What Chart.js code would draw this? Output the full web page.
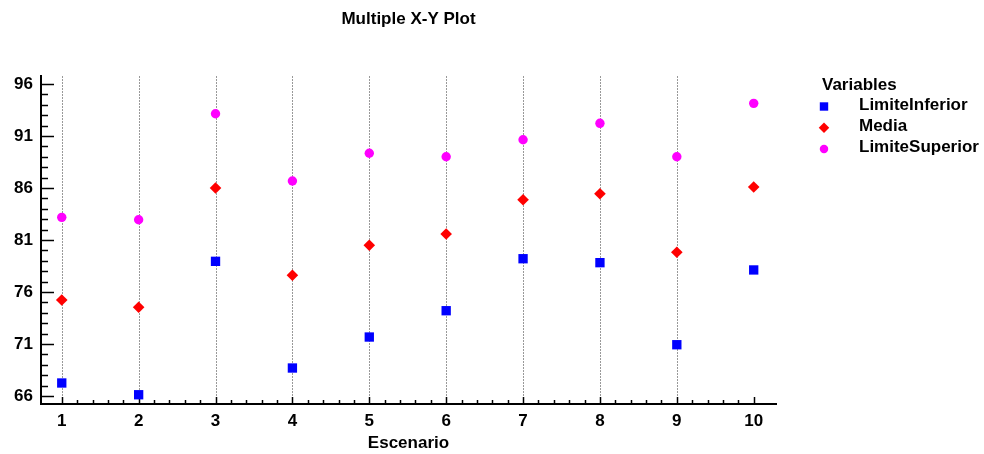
<!DOCTYPE html>
<html lang="es">
<head>
<meta charset="UTF-8">
<title>Multiple X-Y Plot</title>
<script src="https://cdn.jsdelivr.net/npm/chart.js"></script>
<style>
  html, body { margin: 0; padding: 0; background: #fff; }
</style>
</head>
<body>
<canvas id="xyChart" width="984" height="454"></canvas>
<script>
// Escenarios y valores de cada variable
const escenarios = [1, 2, 3, 4, 5, 6, 7, 8, 9, 10];
const limiteInferior = [67.25, 66.12, 78.95, 68.69, 71.67, 74.2, 79.2, 78.82, 70.93, 78.12];
const media = [75.23, 74.53, 86.0, 77.61, 80.49, 81.58, 84.87, 85.45, 79.82, 86.1];
const limiteSuperior = [83.18, 82.95, 93.14, 86.67, 89.34, 89.01, 90.64, 92.22, 89.01, 94.14];
const yTicks = [66, 71, 76, 81, 86, 91, 96];

const fuente = { family: '"Liberation Sans", Arial, sans-serif', size: 17, weight: 'bold' };
const fuenteCss = 'bold 17px "Liberation Sans", Arial, sans-serif';

function puntos(valores) {
    return escenarios.map((x, i) => ({ x: x, y: valores[i] }));
}

// rejilla punteada y marcas hacia dentro de los ejes
const marcasEjes = {
    id: 'marcasEjes',
    beforeDatasetsDraw(chart) {
        const { ctx, chartArea, scales: { x, y } } = chart;
        ctx.save();
        ctx.strokeStyle = '#999';
        ctx.lineWidth = 1;
        ctx.setLineDash([2, 1]);
        escenarios.slice(0, -1).forEach(v => {
            const px = Math.round(x.getPixelForValue(v)) + 0.5;
            ctx.beginPath();
            ctx.moveTo(px, chartArea.top);
            ctx.lineTo(px, chartArea.bottom);
            ctx.stroke();
        });
        ctx.setLineDash([]);
        ctx.strokeStyle = '#000';
        ctx.lineWidth = 1.5;
        const x0 = escenarios[0], x1 = escenarios[escenarios.length - 1];
        for (let i = x0 * 5; i <= x1 * 5; i++) {
            const px = Math.round(x.getPixelForValue(i / 5)) + 0.5;
            const largo = i % 5 === 0 ? 7 : 4;
            ctx.beginPath();
            ctx.moveTo(px, chartArea.bottom);
            ctx.lineTo(px, chartArea.bottom - largo);
            ctx.stroke();
        }
        const y0 = yTicks[0], y1 = yTicks[yTicks.length - 1];
        for (let v = y0; v <= y1; v++) {
            const py = Math.round(y.getPixelForValue(v)) + 0.5;
            const largo = (v - y0) % 5 === 0 ? 13 : 7;
            ctx.beginPath();
            ctx.moveTo(chartArea.left, py);
            ctx.lineTo(chartArea.left + largo, py);
            ctx.stroke();
        }
        ctx.restore();
    }
};

// leyenda a la derecha
const leyenda = {
    id: 'leyenda',
    afterDraw(chart) {
        const ctx = chart.ctx;
        ctx.save();
        ctx.font = fuenteCss;
        ctx.fillStyle = '#000';
        ctx.textAlign = 'left';
        ctx.textBaseline = 'middle';
        ctx.fillText('Variables', 822, 85);
        chart.data.datasets.forEach((ds, i) => {
            const yy = 105 + i * 21.2;
            ctx.fillStyle = ds.backgroundColor;
            Chart.helpers.drawPoint(ctx, {
                pointStyle: ds.pointStyle,
                radius: ds.pointRadius * 0.9,
                rotation: 0,
                borderWidth: 0
            }, 824, yy + 1.5);
            ctx.fillStyle = '#000';
            ctx.fillText(ds.label, 859, yy);
        });
        ctx.restore();
    }
};

const ctx = document.getElementById('xyChart').getContext('2d');
new Chart(ctx, {
    type: 'scatter',
    data: {
        datasets: [
            {
                label: 'LimiteInferior',
                data: puntos(limiteInferior),
                pointStyle: 'rect',
                pointRadius: 6.6,
                backgroundColor: '#0000ff',
                borderWidth: 0
            },
            {
                label: 'Media',
                data: puntos(media),
                pointStyle: 'rectRot',
                pointRadius: 5.8,
                backgroundColor: '#ff0000',
                borderWidth: 0
            },
            {
                label: 'LimiteSuperior',
                data: puntos(limiteSuperior),
                pointStyle: 'circle',
                pointRadius: 4.7,
                backgroundColor: '#ff00ff',
                borderWidth: 0
            }
        ]
    },
    options: {
        responsive: false,
        animation: false,
        layout: { padding: { left: 0, right: 208, top: 0, bottom: 0 } },
        plugins: {
            legend: { display: false },
            tooltip: { enabled: false },
            title: {
                display: true,
                text: 'Multiple X-Y Plot',
                fullSize: false,
                color: '#000',
                font: fuente,
                padding: { top: 9.5, bottom: 46.1 }
            }
        },
        scales: {
            x: {
                type: 'linear',
                min: 0.73,
                max: 10.29,
                afterBuildTicks: s => { s.ticks = escenarios.map(v => ({ value: v })); },
                afterFit: s => { s.height = 50; s.paddingLeft = 0; s.paddingRight = 0; },
                grid: { display: false, drawTicks: false },
                border: { display: true, color: '#000', width: 2 },
                ticks: { color: '#000', font: fuente, padding: 7, autoSkip: false, maxRotation: 0 },
                title: { display: true, text: 'Escenario', color: '#000', font: fuente, padding: 0 }
            },
            y: {
                type: 'linear',
                min: 65.23,
                max: 96.77,
                afterBuildTicks: s => { s.ticks = yTicks.map(v => ({ value: v })); },
                afterFit: s => { s.width = 41; s.paddingTop = 0; s.paddingBottom = 0; },
                grid: { display: false, drawTicks: false },
                border: { display: true, color: '#000', width: 2 },
                ticks: { color: '#000', font: fuente, padding: 8, autoSkip: false }
            }
        }
    },
    plugins: [marcasEjes, leyenda]
});
</script>
</body>
</html>
